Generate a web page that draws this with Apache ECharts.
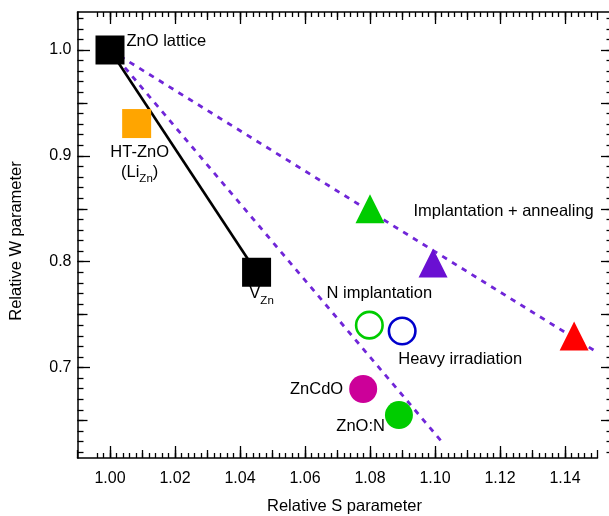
<!DOCTYPE html>
<html><head><meta charset="utf-8">
<script src="https://cdn.jsdelivr.net/npm/echarts@6/dist/echarts.min.js"></script>
<style>html,body{margin:0;padding:0;background:#fff}#c{width:609px;height:516px}</style>
</head><body><div id="c"></div>
<script>
// ---- data ----
const squareNames = ['ZnO lattice', 'HT-ZnO', 'V_Zn'];
const squareS = [1.000, 1.0082, 1.0451];
const squareW = [1.000, 0.9305, 0.790];

const triangleNames = ['Implantation + annealing', '', ''];
const triangleS = [1.080, 1.0994, 1.1428];
const triangleW = [0.850, 0.7987, 0.7298];

const openCircleNames = ['N implantation', 'Heavy irradiation'];
const openCircleS = [1.0798, 1.0899];
const openCircleW = [0.740, 0.7345];

const filledCircleNames = ['ZnCdO', 'ZnO:N'];
const filledCircleS = [1.0779, 1.0889];
const filledCircleW = [0.6797, 0.6551];

const solidLineS = [1.000, 1.0451];
const solidLineW = [1.000, 0.790];
const dashUpperS = [1.000, 1.1498];
const dashUpperW = [1.000, 0.7146];
const dashLowerS = [1.000, 1.1022];
const dashLowerW = [1.000, 0.6295];

const xTickLabels = [1.00, 1.02, 1.04, 1.06, 1.08, 1.10, 1.12, 1.14];
const yTickLabels = [0.7, 0.8, 0.9, 1.0];

// ---- helpers ----
function range(a, b, step) { const o = []; for (let v = a; v <= b + 1e-9; v += step) o.push(+v.toFixed(4)); return o; }
const FONT = '"Liberation Sans", Arial, Helvetica, sans-serif';
const X_MIN = 0.99, X_MAX = 1.15, Y_MIN = 0.6145, Y_MAX = 1.0359;
const GRID_LEFT = 77.5, GRID_TOP = 12, GRID_H = 446, GRID_W = 520, GRID_W2 = 532.5;
const X_MAX2 = X_MIN + (X_MAX - X_MIN) * GRID_W2 / GRID_W;
const tickLine = { color: '#000', width: 1.3 };

const xMid = range(0.99, 1.15, 0.01);
const xMinor = range(0.996, 1.148, 0.002);
const yMid = [0.65, 0.75, 0.85, 0.95];
const yMinor = range(0.62, 1.03, 0.01);
const yRightMajor = [0.65, 0.7, 0.75, 0.8, 0.85, 0.9, 0.95, 1.0];

function hiddenAxis(base, vals, len) {
  return Object.assign({
    type: 'value', axisLine: { show: false }, splitLine: { show: false }, axisLabel: { show: false },
    axisTick: { show: true, inside: true, length: len, customValues: vals, lineStyle: tickLine }
  }, base);
}

const rich = {
  a: { fontSize: 16.5, fontFamily: FONT, color: '#000', lineHeight: 20 },
  s: { fontSize: 11.5, fontFamily: FONT, color: '#000', lineHeight: 12, padding: [11, 0, 0, 0], verticalAlign: 'top' }
};

function pts(S, W) { return S.map((s, i) => [s, W[i]]); }
function lbl(extra) { return Object.assign({ show: true, color: '#000', opacity: 1, fontSize: 16.5, fontFamily: FONT, rich: rich }, extra); }
function sty(c) { return { color: c, opacity: 1 }; }
function ring(c) { return { color: 'rgba(255,255,255,0)', borderColor: c, borderWidth: 2.6, opacity: 1 }; }

const xAxes = [
  { gridIndex: 0, type: 'value', position: 'bottom', min: X_MIN, max: X_MAX,
    axisLine: { show: true, lineStyle: { color: '#000', width: 1.5 } },
    axisTick: { show: true, inside: true, length: 12, customValues: xTickLabels, lineStyle: tickLine },
    axisLabel: { show: true, customValues: xTickLabels, formatter: v => v.toFixed(2), fontSize: 16, fontFamily: FONT, color: '#000', margin: 13 },
    splitLine: { show: false },
    name: 'Relative S parameter', nameLocation: 'middle', nameGap: 40,
    nameTextStyle: { fontSize: 16.5, fontFamily: FONT, color: '#000', padding: [0, 0, 0, 14] } },
  hiddenAxis({ gridIndex: 0, position: 'bottom', min: X_MIN, max: X_MAX }, xMid, 8),
  hiddenAxis({ gridIndex: 0, position: 'bottom', min: X_MIN, max: X_MAX }, xMinor, 5),
  { gridIndex: 1, type: 'value', position: 'top', min: X_MIN, max: X_MAX2,
    axisLine: { show: true, lineStyle: { color: '#000', width: 1.5 } },
    axisTick: { show: true, inside: true, length: 12, customValues: xTickLabels, lineStyle: tickLine },
    axisLabel: { show: false }, splitLine: { show: false } },
  hiddenAxis({ gridIndex: 1, position: 'top', min: X_MIN, max: X_MAX2 }, xMid, 8),
  hiddenAxis({ gridIndex: 1, position: 'top', min: X_MIN, max: X_MAX2 }, xMinor, 5)
];

const yAxes = [
  { gridIndex: 0, type: 'value', position: 'left', min: Y_MIN, max: Y_MAX,
    axisLine: { show: true, lineStyle: { color: '#000', width: 1.5 } },
    axisTick: { show: true, inside: true, length: 12.5, customValues: yTickLabels, lineStyle: tickLine },
    axisLabel: { show: true, customValues: yTickLabels, formatter: v => v.toFixed(1), fontSize: 16, fontFamily: FONT, color: '#000', margin: 6 },
    splitLine: { show: false },
    name: 'Relative W parameter', nameLocation: 'middle', nameGap: 53,
    nameTextStyle: { fontSize: 16.5, fontFamily: FONT, color: '#000', padding: [0, 12, 0, 0] } },
  hiddenAxis({ gridIndex: 0, position: 'left', min: Y_MIN, max: Y_MAX }, yMid, 10),
  hiddenAxis({ gridIndex: 0, position: 'left', min: Y_MIN, max: Y_MAX }, yMinor, 6),
  { gridIndex: 1, type: 'value', position: 'right', min: Y_MIN, max: Y_MAX,
    axisLine: { show: true, lineStyle: { color: '#000', width: 1.5 } },
    axisTick: { show: true, inside: true, length: 9, customValues: yRightMajor, lineStyle: tickLine },
    axisLabel: { show: false }, splitLine: { show: false } },
  hiddenAxis({ gridIndex: 1, position: 'right', min: Y_MIN, max: Y_MAX }, yMinor, 3.5)
];

const DASH = '#7026d8';
const lineBase = { type: 'line', xAxisIndex: 0, yAxisIndex: 0, showSymbol: false, symbol: 'none', silent: true, animation: false, z: 1 };

const series = [
  Object.assign({}, lineBase, { data: pts(dashUpperS, dashUpperW), lineStyle: { color: DASH, width: 2.8, type: [5.5, 6], opacity: 1 } }),
  Object.assign({}, lineBase, { data: pts(dashLowerS, dashLowerW), lineStyle: { color: DASH, width: 2.8, type: [5.5, 6], opacity: 1 } }),
  Object.assign({}, lineBase, { data: pts(solidLineS, solidLineW), lineStyle: { color: '#000', width: 2.6, type: 'solid', opacity: 1 } }),
  // squares
  { type: 'scatter', xAxisIndex: 0, yAxisIndex: 0, symbol: 'rect', symbolSize: 29, z: 3, animation: false,
    data: [
      { value: [squareS[0], squareW[0]], itemStyle: sty('#000'),
        label: lbl({ position: 'right', distance: 2, offset: [0, -9], formatter: '{a|' + squareNames[0] + '}' }) },
      { value: [squareS[1], squareW[1]], itemStyle: sty('#FFA500'),
        label: lbl({ position: 'bottom', distance: 4, offset: [3, 0], align: 'center',
          formatter: '{a|' + squareNames[1] + '}\n{a|(Li}{s|Zn}{a|)}' }) },
      { value: [squareS[2], squareW[2]], itemStyle: sty('#000'),
        label: lbl({ position: 'bottom', distance: -3, offset: [5, 0], formatter: '{a|V}{s|Zn}' }) }
    ] },
  // triangles
  { type: 'scatter', xAxisIndex: 0, yAxisIndex: 0, symbol: 'triangle', symbolSize: 29, z: 3, animation: false,
    data: [
      { value: [triangleS[0], triangleW[0]], itemStyle: sty('#00CC00'),
        label: lbl({ position: 'right', distance: 29, offset: [0, 2.5], formatter: '{a|' + triangleNames[0] + '}' }) },
      { value: [triangleS[1], triangleW[1]], itemStyle: sty('#6A10D2') },
      { value: [triangleS[2], triangleW[2]], itemStyle: sty('#FF0000') }
    ] },
  // open circles
  { type: 'scatter', xAxisIndex: 0, yAxisIndex: 0, symbol: 'circle', symbolSize: 26.5, z: 3, animation: false,
    data: [
      { value: [openCircleS[0], openCircleW[0]], itemStyle: ring('#00CC00'),
        label: lbl({ position: 'top', distance: 7, offset: [10, 0], formatter: '{a|' + openCircleNames[0] + '}' }) },
      { value: [openCircleS[1], openCircleW[1]], itemStyle: ring('#0000CC'),
        label: lbl({ position: 'bottom', distance: 3.5, offset: [58, 0], formatter: '{a|' + openCircleNames[1] + '}' }) }
    ] },
  // filled circles
  { type: 'scatter', xAxisIndex: 0, yAxisIndex: 0, symbol: 'circle', symbolSize: 28, z: 3, animation: false,
    data: [
      { value: [filledCircleS[0], filledCircleW[0]], itemStyle: sty('#CC0099'),
        label: lbl({ position: 'left', distance: 6, formatter: '{a|' + filledCircleNames[0] + '}' }) },
      { value: [filledCircleS[1], filledCircleW[1]], itemStyle: sty('#00CC00'),
        label: lbl({ position: 'left', distance: 0, offset: [0, 11], formatter: '{a|' + filledCircleNames[1] + '}' }) }
    ] }
];

const chart = echarts.init(document.getElementById('c'), null, { renderer: 'canvas' });
chart.setOption({
  animation: false,
  backgroundColor: '#fff',
  grid: [
    { left: GRID_LEFT, top: GRID_TOP, width: GRID_W, height: GRID_H, containLabel: false, outerBoundsMode: 'none' },
    { left: GRID_LEFT, top: GRID_TOP, width: GRID_W2, height: GRID_H, containLabel: false, outerBoundsMode: 'none' }
  ],
  xAxis: xAxes,
  yAxis: yAxes,
  series: series
});
</script></body></html>
